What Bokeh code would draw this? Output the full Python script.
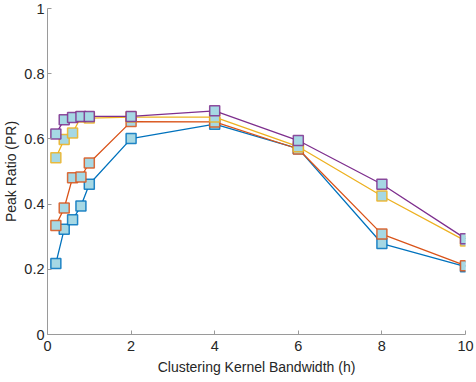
from bokeh.plotting import figure
from bokeh.models import Range1d, FixedTicker
from bokeh.embed import file_html
from bokeh.resources import INLINE

h = [0.2, 0.4, 0.6, 0.8, 1, 2, 4, 6, 8, 10]
pr_blue = [0.218, 0.323, 0.352, 0.394, 0.461, 0.601, 0.645, 0.570, 0.279, 0.208]
pr_orange = [0.334, 0.388, 0.481, 0.483, 0.526, 0.653, 0.652, 0.569, 0.308, 0.211]
pr_yellow = [0.542, 0.598, 0.618, 0.667, 0.664, 0.667, 0.667, 0.576, 0.425, 0.287]
pr_purple = [0.615, 0.659, 0.666, 0.669, 0.669, 0.669, 0.686, 0.595, 0.461, 0.294]

series = [
    (pr_blue, "#0072BD"),
    (pr_orange, "#D95319"),
    (pr_yellow, "#EDB120"),
    (pr_purple, "#7E2F8E"),
]

p = figure(width=476, height=382, output_backend="svg", toolbar_location=None,
           x_range=Range1d(0, 10), y_range=Range1d(0, 1),
           min_border_left=47, min_border_right=11, min_border_top=8, min_border_bottom=48)
p.outline_line_color = None
p.xgrid.visible = False
p.ygrid.visible = False

for vals, col in series:
    p.line(h, vals, line_color=col, line_width=1.3)
    p.scatter(h, vals, marker="square", size=10, fill_color="#A6D8E4",
              line_color=col, line_width=1.5, line_alpha=0.85)

font = "Liberation Sans"
for ax in (p.xaxis[0], p.yaxis[0]):
    ax.axis_line_color = "#9a9a9a"
    ax.major_tick_line_color = "#9a9a9a"
    ax.major_tick_in = 4
    ax.major_tick_out = 0
    ax.minor_tick_line_color = None
    ax.major_label_text_font = font
    ax.major_label_text_font_size = "14.5px"
    ax.major_label_text_color = "#262626"
    ax.axis_label_text_font = font
    ax.axis_label_text_font_size = "14px"
    ax.axis_label_text_font_style = "normal"
    ax.axis_label_text_color = "#262626"

p.xaxis.ticker = FixedTicker(ticks=[0, 2, 4, 6, 8, 10])
p.yaxis.ticker = FixedTicker(ticks=[0, 0.2, 0.4, 0.6, 0.8, 1])
p.xaxis.major_label_overrides = {0: "0", 2: "2", 4: "4", 6: "6", 8: "8", 10: "10"}
p.yaxis.major_label_overrides = {0: "0", 0.2: "0.2", 0.4: "0.4", 0.6: "0.6", 0.8: "0.8", 1: "1"}
p.xaxis.axis_label = "Clustering Kernel Bandwidth (h)"
p.yaxis.axis_label = "Peak Ratio (PR)"
p.xaxis.major_label_standoff = 6
p.yaxis.major_label_standoff = 3
p.xaxis.axis_label_standoff = 5
p.yaxis.axis_label_standoff = 2

open("out.html", "w").write(file_html(p, INLINE))
